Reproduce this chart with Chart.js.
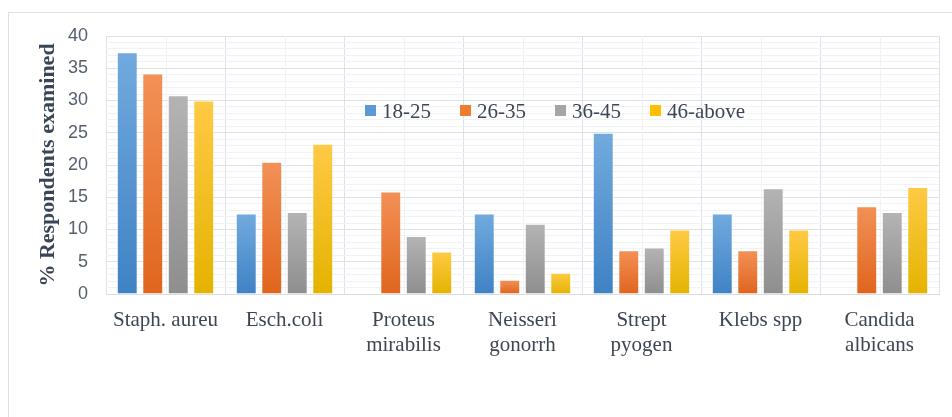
<!DOCTYPE html>
<html>
<head>
<meta charset="utf-8">
<script src="https://cdn.jsdelivr.net/npm/chart.js@4/dist/chart.umd.min.js"></script>
<style>
  html, body { margin: 0; padding: 0; background: #ffffff; }
  #wrap { width: 952px; height: 417px; position: relative; }
</style>
</head>
<body>
<div id="wrap"><canvas id="c" width="952" height="417"></canvas></div>
<script>
// Organisms isolated and the share of respondents in each age group
const organisms = [
  'Staph. aureu',
  'Esch.coli',
  ['Proteus', 'mirabilis'],
  ['Neisseri', 'gonorrh'],
  ['Strept', 'pyogen'],
  'Klebs spp',
  ['Candida', 'albicans']
];
const ageGroups = ['18-25', '26-35', '36-45', '46-above'];
const age18to25 = [37.5, 12.5, 0, 12.5, 25.0, 12.5, 0];
const age26to35 = [34.2, 20.5, 15.9, 2.2, 6.8, 6.8, 13.6];
const age36to45 = [30.8, 12.7, 9.0, 10.9, 7.2, 16.4, 12.7];
const age46above = [30.0, 23.3, 6.6, 3.3, 10.0, 10.0, 16.6];
const yTicks = [0, 5, 10, 15, 20, 25, 30, 35, 40];

// flat swatch colour, gradient top, gradient bottom
const palette = [
  ['#5b9bd5', '#72aade', '#3f82c4'],
  ['#ed7d31', '#f39157', '#e0651d'],
  ['#a5a5a5', '#b4b4b4', '#8e8e8e'],
  ['#ffc000', '#ffca45', '#e4b300']
];

function barGradient(idx) {
  return function (ctx) {
    const chart = ctx.chart;
    const y = chart.scales && chart.scales.y;
    const c = palette[idx];
    if (!y || ctx.raw === undefined || !chart.chartArea) return c[0];
    const top = y.getPixelForValue(ctx.raw);
    const bottom = y.getPixelForValue(0);
    if (!(bottom - top > 1)) return c[0];
    const g = chart.ctx.createLinearGradient(0, top, 0, bottom);
    g.addColorStop(0, c[1]);
    g.addColorStop(1, c[2]);
    return g;
  };
}

const seriesValues = [age18to25, age26to35, age36to45, age46above];
const datasets = ageGroups.map((name, i) => ({
  label: name,
  data: seriesValues[i],
  backgroundColor: barGradient(i),
  borderColor: 'rgba(255,255,255,0.35)',
  borderWidth: 1,
  categoryPercentage: 0.857,
  barPercentage: 0.82
}));

const MAJOR = '#dde2ea';
const MINOR = '#f0f2f6';

// faint lines through each category centre and an outer frame
const framePlugin = {
  id: 'frame',
  beforeDraw(chart) {
    const ctx = chart.ctx;
    ctx.save();
    ctx.fillStyle = '#ffffff';
    ctx.fillRect(0, 0, chart.width, chart.height);
    ctx.strokeStyle = '#dde1e7';
    ctx.lineWidth = 1;
    ctx.strokeRect(8.5, 12.5, chart.width + 20, chart.height + 20);
    ctx.restore();
  },
  beforeDatasetsDraw(chart) {
    const ctx = chart.ctx;
    const x = chart.scales.x;
    const a = chart.chartArea;
    ctx.save();
    ctx.strokeStyle = MINOR;
    ctx.lineWidth = 1;
    for (let i = 0; i < organisms.length; i++) {
      const px = Math.round(x.getPixelForValue(i)) + 0.5;
      ctx.beginPath();
      ctx.moveTo(px, a.top);
      ctx.lineTo(px, a.bottom);
      ctx.stroke();
    }
    ctx.restore();
  }
};

// legend drawn inside the plot area
const innerLegend = {
  id: 'innerLegend',
  afterDraw(chart) {
    const ctx = chart.ctx;
    ctx.save();
    ctx.font = '21px "Liberation Serif", "Times New Roman", serif';
    ctx.textBaseline = 'middle';
    let x = 365;
    const yMid = 111;
    const box = 11;
    chart.data.datasets.forEach((ds, i) => {
      ctx.fillStyle = palette[i][0];
      ctx.fillRect(x, yMid - 6, box, box);
      ctx.fillStyle = '#3e4553';
      ctx.fillText(ds.label, x + box + 6, yMid + 1);
      x += box + 6 + ctx.measureText(ds.label).width + 29;
    });
    ctx.restore();
  }
};

new Chart(document.getElementById('c'), {
  type: 'bar',
  data: { labels: organisms, datasets },
  plugins: [framePlugin, innerLegend],
  options: {
    responsive: false,
    animation: false,
    devicePixelRatio: 1,
    layout: { padding: { left: 0, top: 36, right: 13, bottom: 0 } },
    plugins: {
      legend: { display: false },
      tooltip: { enabled: false }
    },
    scales: {
      x: {
        offset: true,
        grid: { offset: true, color: MAJOR, drawTicks: false },
        border: { color: '#d9dee6' },
        ticks: {
          color: '#3e4553',
          font: { family: '"Liberation Serif", "Times New Roman", serif', size: 21, lineHeight: 1.2 },
          padding: 14,
          maxRotation: 0,
          autoSkip: false
        },
        afterFit(scale) { scale.height = 123; }
      },
      y: {
        min: 0,
        max: 40,
        afterBuildTicks(scale) {
          const t = [];
          for (let v = 0; v <= 40; v++) t.push({ value: v });
          scale.ticks = t;
        },
        grid: {
          drawTicks: false,
          color: (c) => (c.tick && yTicks.includes(c.tick.value)) ? MAJOR : MINOR
        },
        border: { display: false },
        ticks: {
          autoSkip: false,
          padding: 18,
          color: '#566070',
          font: { family: '"Liberation Sans", Arial, sans-serif', size: 18 },
          callback: (v) => yTicks.includes(v) ? String(v) : ''
        },
        title: {
          display: true,
          text: '% Respondents examined',
          color: '#3a4656',
          font: { family: '"Liberation Serif", "Times New Roman", serif', size: 22, weight: 'bold' },
          padding: { top: 35, bottom: 0 }
        },
        afterFit(scale) { scale.width = 106; }
      }
    }
  }
});
</script>
</body>
</html>
